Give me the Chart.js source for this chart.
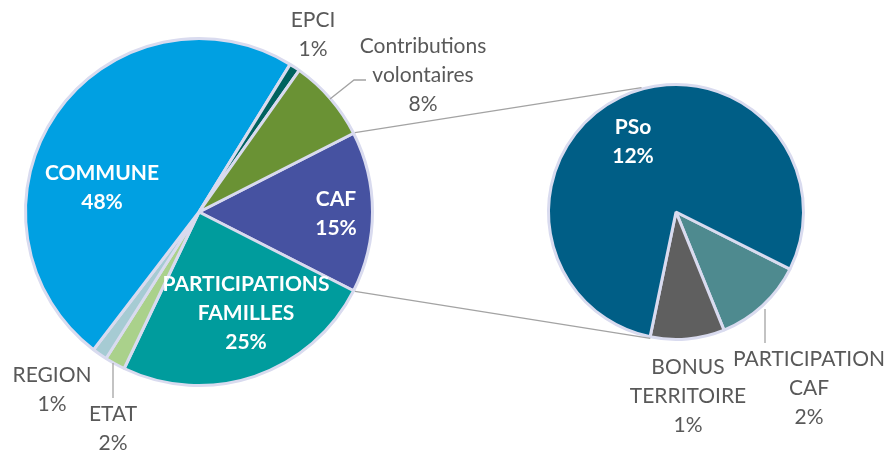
<!DOCTYPE html>
<html>
<head>
<meta charset="utf-8">
<script src="https://cdn.jsdelivr.net/npm/chart.js@4.4.1/dist/chart.umd.min.js"></script>
<style>
  html, body { margin: 0; padding: 0; background: #fff; }
  #wrap { position: relative; width: 888px; height: 453px; }
  #wrap canvas { position: absolute; left: 0; top: 0; }
</style>
</head>
<body>
<div id="wrap">
  <canvas id="mainPie" width="888" height="453"></canvas>
  <canvas id="cafPie" width="888" height="453"></canvas>
</div>
<script>
// --- DATA ---
const mainLabels = ['CAF', 'PARTICIPATIONS FAMILLES', 'ETAT', 'REGION', 'COMMUNE', 'EPCI', 'Contributions volontaires'];
const mainValues = [15.0, 24.6, 1.9, 1.4, 48.4, 1.0, 7.7];
const mainColors = ['#4652a1', '#009c9d', '#aad18b', '#a6cbd3', '#00a0e2', '#00625f', '#6a9234'];

// detail of the CAF slice
const cafLabels = ['PARTICIPATION CAF', 'BONUS TERRITOIRE', 'PSo'];
const cafValues = [1.72, 1.41, 11.87];
const cafColors = ['#4e8a8f', '#5f5f5f', '#005e86'];

const grandTotal = mainValues.reduce((a, b) => a + b, 0);

// --- LOOK ---
const EDGE = '#d9dbef';
const GREY_TEXT = '#595959';
const LINE_GREY = '#a3a3a3';
const FONT = 'Lato, "Open Sans", sans-serif';
const FONT_PX = 21;
const LINE_H = 29;

// label block centres, as offsets from the pie centre
const mainSpots = [
    { dx: 137, dy: 2, inside: true },    // CAF
    { dx: 47, dy: 101, inside: true },   // PARTICIPATIONS FAMILLES
    { dx: -86, dy: 217, inside: false }, // ETAT
    { dx: -147, dy: 178, inside: false },// REGION
    { dx: -97, dy: -24, inside: true },  // COMMUNE
    { dx: 114, dy: -177, inside: false },// EPCI
    { dx: 224, dy: -137, inside: false } // Contributions volontaires
];
const mainLeaders = [
    [[131, -113], [155, -132], [167, -132]],
    [[-86, 151], [-86, 186]]
];

const cafSpots = [
    { dx: 133, dy: 176, inside: false }, // PARTICIPATION CAF
    { dx: 12, dy: 184, inside: false },  // BONUS TERRITOIRE
    { dx: -43, dy: -70, inside: true }   // PSo
];
const cafLeaders = [
    [[89, 97], [89, 131]]
];

function pct(v) {
    return Math.round(v / grandTotal * 100) + '%';
}

function sliceLabels(id, spots, leaders) {
    return {
        id: id,
        afterDatasetsDraw(chart) {
            const ctx = chart.ctx;
            const arcs = chart.getDatasetMeta(0).data;
            const cx = arcs[0].x, cy = arcs[0].y;
            const values = chart.data.datasets[0].data;
            ctx.save();

            ctx.strokeStyle = LINE_GREY;
            ctx.lineWidth = 1.3;
            leaders.forEach(pts => {
                ctx.beginPath();
                pts.forEach((p, k) => {
                    if (k === 0) ctx.moveTo(cx + p[0], cy + p[1]);
                    else ctx.lineTo(cx + p[0], cy + p[1]);
                });
                ctx.stroke();
            });

            ctx.textAlign = 'center';
            ctx.textBaseline = 'middle';
            chart.data.labels.forEach((name, i) => {
                const spot = spots[i];
                const lines = name.split(' ').concat(pct(values[i]));
                ctx.font = (spot.inside ? 'bold ' : '') + FONT_PX + 'px ' + FONT;
                ctx.fillStyle = spot.inside ? '#ffffff' : GREY_TEXT;
                const top = cy + spot.dy - (lines.length - 1) * LINE_H / 2;
                lines.forEach((t, k) => ctx.fillText(t, cx + spot.dx, top + k * LINE_H));
            });
            ctx.restore();
        }
    };
}

function pieOptions(padding, rotation) {
    return {
        responsive: false,
        animation: false,
        devicePixelRatio: 1,
        rotation: rotation,
        layout: { padding: padding },
        plugins: { legend: { display: false }, tooltip: { enabled: false } },
        events: []
    };
}

// --- MAIN PIE ---
const mainChart = new Chart(document.getElementById('mainPie'), {
    type: 'pie',
    data: {
        labels: mainLabels,
        datasets: [{
            data: mainValues,
            backgroundColor: mainColors,
            borderColor: EDGE,
            borderWidth: 3,
            hoverOffset: 0
        }]
    },
    options: pieOptions({ left: 24, top: 37, right: 514, bottom: 66 }, 90 - mainValues[0] / grandTotal * 180),
    plugins: [sliceLabels('mainLabels', mainSpots, mainLeaders)]
});

// connector lines between the CAF slice and the detail pie
const connectors = {
    id: 'connectors',
    afterDatasetsDraw(chart) {
        const caf = mainChart.getDatasetMeta(0).data[0];
        const r1 = caf.outerRadius + 1.5;
        const sub = chart.getDatasetMeta(0).data[0];
        const r2 = sub.outerRadius + 1.5;
        const ends = [
            [caf.startAngle, -105.5 * Math.PI / 180],
            [caf.endAngle, 101.5 * Math.PI / 180]
        ];
        const ctx = chart.ctx;
        ctx.save();
        ctx.strokeStyle = LINE_GREY;
        ctx.lineWidth = 1.3;
        ends.forEach(e => {
            ctx.beginPath();
            ctx.moveTo(caf.x + r1 * Math.cos(e[0]), caf.y + r1 * Math.sin(e[0]));
            ctx.lineTo(sub.x + r2 * Math.cos(e[1]), sub.y + r2 * Math.sin(e[1]));
            ctx.stroke();
        });
        ctx.restore();
    }
};

// --- DETAIL PIE ---
const cafChart = new Chart(document.getElementById('cafPie'), {
    type: 'pie',
    data: {
        labels: cafLabels,
        datasets: [{
            data: cafValues,
            backgroundColor: cafColors,
            borderColor: EDGE,
            borderWidth: 3,
            hoverOffset: 0
        }]
    },
    options: pieOptions({ left: 547, top: 83, right: 83, bottom: 112 }, 116.6),
    plugins: [connectors, sliceLabels('cafLabels', cafSpots, cafLeaders)]
});
</script>
</body>
</html>
